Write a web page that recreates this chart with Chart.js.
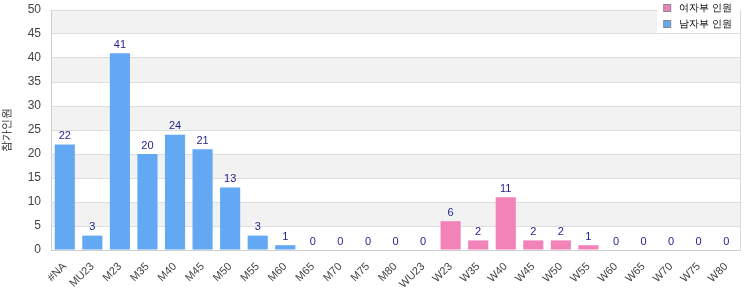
<!DOCTYPE html>
<html>
<head>
<meta charset="utf-8">
<script src="https://cdn.jsdelivr.net/npm/chart.js@4"></script>
<style>
  html, body { margin: 0; padding: 0; background: #fff; }
  #wrap { width: 750px; height: 300px; }
</style>
</head>
<body>
<div id="wrap"><canvas id="myChart" width="750" height="300"></canvas></div>
<script>
const categories = ['#NA', 'MU23', 'M23', 'M35', 'M40', 'M45', 'M50', 'M55', 'M60', 'M65', 'M70', 'M75', 'M80',
    'WU23', 'W23', 'W35', 'W40', 'W45', 'W50', 'W55', 'W60', 'W65', 'W70', 'W75', 'W80'];
const menCounts = [22, 3, 41, 20, 24, 21, 13, 3, 1, 0, 0, 0, 0, 0, null, null, null, null, null, null, null, null, null, null, null];
const womenCounts = [null, null, null, null, null, null, null, null, null, null, null, null, null, null, 6, 2, 11, 2, 2, 1, 0, 0, 0, 0, 0];
const yTicks = { min: 0, max: 50, step: 5 };
const seriesNames = ['여자부 인원', '남자부 인원'];
const axisTitle = '참가인원';

const FONT = "'Liberation Sans', Arial, sans-serif";

// alternating grey bands behind the grid
const bandPlugin = {
    id: 'bands',
    beforeDraw(chart) {
        const { ctx, chartArea, scales } = chart;
        const y = scales.y;
        ctx.save();
        for (let v = yTicks.min; v < yTicks.max; v += yTicks.step) {
            if ((v / yTicks.step) % 2 === 1) {
                const top = y.getPixelForValue(v + yTicks.step);
                const bot = y.getPixelForValue(v);
                ctx.fillStyle = '#f2f2f2';
                ctx.fillRect(chartArea.left, top, chartArea.right - chartArea.left, bot - top);
            }
        }
        ctx.restore();
    }
};

// value labels above every bar + right border + legend box
const labelPlugin = {
    id: 'valueLabels',
    afterDatasetsDraw(chart) {
        const ctx = chart.ctx;
        ctx.save();
        ctx.font = '11px ' + FONT;
        ctx.fillStyle = '#1f1f8c';
        ctx.textAlign = 'center';
        ctx.textBaseline = 'bottom';
        chart.data.datasets.forEach((ds, i) => {
            const meta = chart.getDatasetMeta(i);
            meta.data.forEach((bar, j) => {
                const v = ds.data[j];
                if (v === null || v === undefined) return;
                ctx.fillText(String(v), bar.x, bar.y - 3);
            });
        });
        ctx.restore();
    },
    afterDraw(chart) {
        const { ctx, chartArea } = chart;
        ctx.save();
        ctx.strokeStyle = '#d9d9d9';
        ctx.lineWidth = 1;
        ctx.beginPath();
        ctx.moveTo(chartArea.right + 0.5, chartArea.top);
        ctx.lineTo(chartArea.right + 0.5, chartArea.bottom);
        ctx.stroke();

        // legend
        const entries = [
            { name: seriesNames[0], color: chart.data.datasets[1].backgroundColor },
            { name: seriesNames[1], color: chart.data.datasets[0].backgroundColor }
        ];
        ctx.font = '10px ' + FONT;
        const textW = Math.max(...entries.map(e => ctx.measureText(e.name).width));
        const boxR = chartArea.right;
        const boxL = boxR - textW - 30;
        ctx.fillStyle = '#fff';
        ctx.fillRect(boxL, 0, boxR - boxL, 33);
        ctx.textBaseline = 'middle';
        ctx.textAlign = 'left';
        entries.forEach((e, i) => {
            const y = 4 + i * 16;
            ctx.fillStyle = e.color;
            ctx.fillRect(boxL + 6.5, y + 0.5, 7, 7);
            ctx.strokeStyle = '#888';
            ctx.strokeRect(boxL + 6.5, y + 0.5, 7, 7);
            ctx.fillStyle = '#000';
            ctx.fillText(e.name, boxL + 22, y + 4);
        });
        ctx.restore();
    }
};

const ctx = document.getElementById('myChart').getContext('2d');
const myChart = new Chart(ctx, {
    type: 'bar',
    data: {
        labels: categories,
        datasets: [{
            label: seriesNames[1],
            data: menCounts,
            backgroundColor: '#62a8f3',
            barPercentage: 0.73,
            categoryPercentage: 1.0
        }, {
            label: seriesNames[0],
            data: womenCounts,
            backgroundColor: '#f283b8',
            barPercentage: 0.73,
            categoryPercentage: 1.0
        }]
    },
    options: {
        responsive: false,
        animation: false,
        layout: { padding: { top: 10, right: 10, left: 0, bottom: 0 } },
        plugins: {
            legend: { display: false },
            tooltip: { enabled: false }
        },
        scales: {
            x: {
                stacked: true,
                grid: { display: false },
                border: { color: '#d0d0d0' },
                afterFit(scale) { scale.height = 50; },
                ticks: {
                    color: '#444',
                    font: { family: FONT, size: 11 },
                    maxRotation: 45,
                    minRotation: 45,
                    autoSkip: false,
                    padding: 2
                }
            },
            y: {
                stacked: true,
                min: yTicks.min,
                max: yTicks.max,
                afterFit(scale) { scale.width = 51; },
                ticks: {
                    stepSize: yTicks.step,
                    color: '#444',
                    font: { family: FONT, size: 12 },
                    padding: 2
                },
                grid: { color: '#dedede', drawTicks: true, tickLength: 8, tickColor: 'rgba(0,0,0,0)' },
                border: { color: '#d0d0d0' },
                title: {
                    display: true,
                    text: axisTitle,
                    color: '#222',
                    font: { family: FONT, size: 11 },
                    padding: { top: 0, bottom: 4 }
                }
            }
        }
    },
    plugins: [bandPlugin, labelPlugin]
});
</script>
</body>
</html>
